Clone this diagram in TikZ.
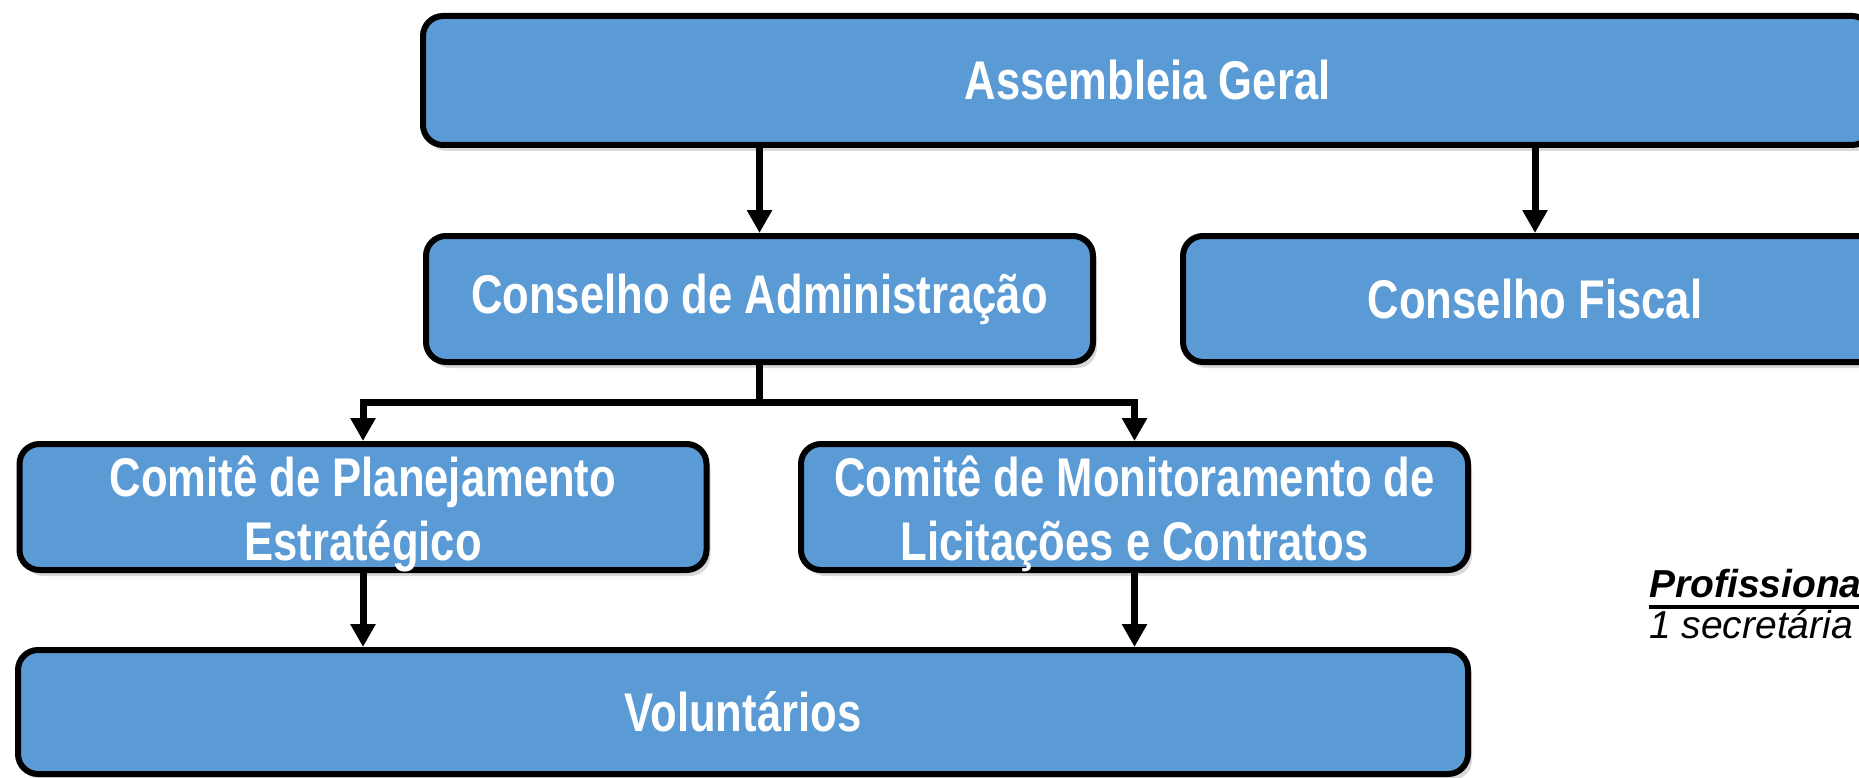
\documentclass[tikz,border=0pt]{standalone}
\usepackage{fontspec}
\setmainfont{Liberation Sans}
\newfontfamily\estreita[FakeStretch=0.80]{Liberation Sans}
\usetikzlibrary{arrows.meta,shadows}
\definecolor{azulcaixa}{HTML}{5B9BD5}

\begin{document}
\begin{tikzpicture}[x=1pt,y=-1pt,
    caixa/.style={draw=black, line width=6pt, fill=azulcaixa, rounded corners=20pt,
        text=white, align=center, inner sep=0pt,
        font=\estreita\bfseries\fontsize{54.5pt}{64pt}\selectfont,
        drop shadow={shadow xshift=4pt, shadow yshift=-6pt, opacity=0.3}},
    duaslinhas/.style={text height=106pt, text depth=0pt},
    seta/.style={line width=7pt, -{Triangle[width=24pt,length=23pt]}}]
    \useasboundingbox (0,0) rectangle (1859,778);
    \clip (0,0) rectangle (1859,778);

    \node[caixa, minimum width=1449pt, minimum height=129pt] (assembleia) at (1147.5,80.5) {Assembleia Geral};
    \node[caixa, minimum width=667pt, minimum height=126pt] (adm) at (759.5,299) {Conselho de Administração};
    \node[caixa, minimum width=704pt, minimum height=126pt] (fiscal) at (1535,299) {Conselho Fiscal};
    \node[caixa, duaslinhas, minimum width=687pt, minimum height=126pt] (planej) at (363,507) {Comitê de Planejamento\\Estratégico};
    \node[caixa, duaslinhas, minimum width=667pt, minimum height=126pt] (monit) at (1134.5,507) {Comitê de Monitoramento de\\Licitações e Contratos};
    \node[caixa, minimum width=1450pt, minimum height=124pt] (volunt) at (743,712) {Voluntários};

    \draw[seta] (assembleia.south -| adm.north) -- (adm.north);
    \draw[seta] (assembleia.south -| fiscal.north) -- (fiscal.north);

    \coordinate (ramo) at ([yshift=-37pt]adm.south);
    \draw[line width=7pt] (adm.south) -- (ramo);
    \draw[seta] (ramo) -| (planej.north);
    \draw[seta] (ramo) -| (monit.north);

    \draw[seta] (planej.south) -- (volunt.north -| planej.south);
    \draw[seta] (monit.south) -- (volunt.north -| monit.south);

    \node[anchor=base west, inner sep=0pt, font=\bfseries\itshape\fontsize{39pt}{46pt}\selectfont] (prof) at (1649,597) {Profissiona};
    \draw[line width=4pt] ([yshift=-10pt]prof.base west) -- ([yshift=-10pt,xshift=10pt]prof.base east);
    \node[anchor=base west, inner sep=0pt, font=\itshape\fontsize{39pt}{46pt}\selectfont] (secret) at (1649,638) {1 secretária};
\end{tikzpicture}
\end{document}
